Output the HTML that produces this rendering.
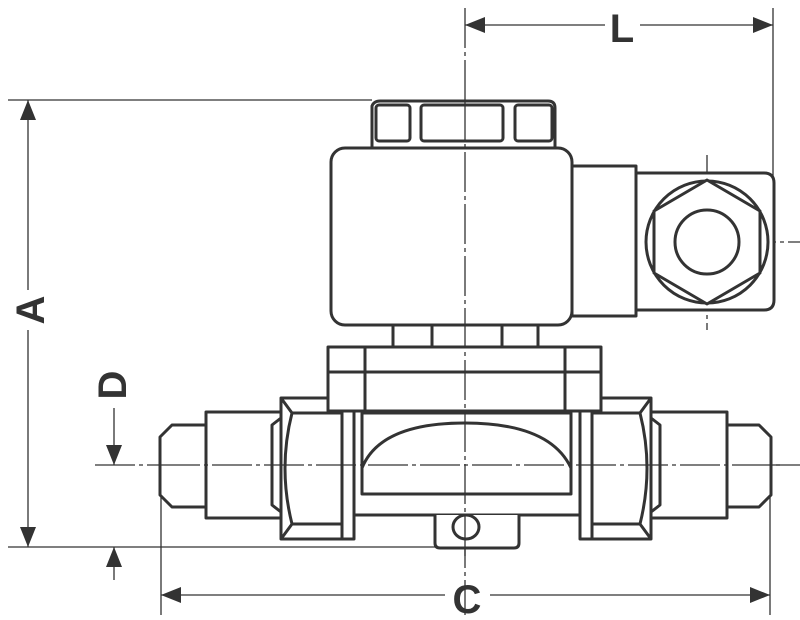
<!DOCTYPE html>
<html><head><style>body{margin:0;background:#fff}svg{display:block}</style></head><body>
<svg width="800" height="620" viewBox="0 0 800 620" xmlns="http://www.w3.org/2000/svg">
<defs>
<marker id="ar" viewBox="0 0 10 10" refX="10" refY="5" markerWidth="20" markerHeight="20" markerUnits="userSpaceOnUse" orient="auto-start-reverse"><path d="M0,1 L10,5 L0,9 z" fill="#333"/></marker>
</defs>
<g stroke="#333" stroke-width="1.3" fill="none">
<!-- extension lines -->
<line x1="465" y1="8" x2="465" y2="615" stroke-dasharray="40,4,4,4"/>
<line x1="773" y1="8" x2="773" y2="178"/>
<line x1="8" y1="100" x2="372" y2="100"/>
<line x1="8" y1="547" x2="436" y2="547"/>
<line x1="95" y1="465" x2="800" y2="465" stroke-dasharray="40,4,4,4"/>
<line x1="161" y1="465" x2="161" y2="615"/>
<line x1="770" y1="470" x2="770" y2="615"/>
<line x1="620" y1="242" x2="800" y2="242" stroke-dasharray="30,4,4,4"/>
<line x1="707" y1="155" x2="707" y2="330" stroke-dasharray="30,4,4,4"/>
<!-- dimension lines -->
<line x1="465" y1="25" x2="605" y2="25" marker-start="url(#ar)"/>
<line x1="640" y1="25" x2="773" y2="25" marker-end="url(#ar)"/>
<line x1="28" y1="100" x2="28" y2="290" marker-start="url(#ar)"/>
<line x1="28" y1="330" x2="28" y2="547" marker-end="url(#ar)"/>
<line x1="114" y1="408" x2="114" y2="465" marker-end="url(#ar)"/>
<line x1="114" y1="580" x2="114" y2="547" marker-end="url(#ar)"/>
<line x1="161" y1="595" x2="445" y2="595" marker-start="url(#ar)"/>
<line x1="490" y1="595" x2="770" y2="595" marker-end="url(#ar)"/>
</g>
<g font-family="Liberation Sans, sans-serif" font-weight="bold" font-size="40" fill="#333" text-anchor="middle">
<text x="622" y="42">L</text>
<text x="467" y="613">C</text>
<text transform="translate(44,310) rotate(-90)">A</text>
<text transform="translate(126,385) rotate(-90)">D</text>
</g>
<g stroke="#333" stroke-width="3" fill="#fff" stroke-linejoin="round">
<!-- top nut -->
<path d="M372,148 L372,106 Q374,101 380,101 L548,101 Q555,101 555,108 L555,148 Z"/>
<rect x="376" y="105" width="34" height="36" rx="3"/>
<rect x="421" y="105" width="82" height="36" rx="3"/>
<rect x="515" y="105" width="37" height="36" rx="3"/>
<!-- coil -->
<rect x="331" y="148" width="241" height="177" rx="14"/>
<rect x="572" y="166" width="64" height="150"/>
<path d="M636,173 L764,173 Q774,173 774,183 L774,300 Q774,310 764,310 L636,310 Z"/>
<circle cx="707" cy="242" r="61"/>
<polygon points="707,180 760,211 760,273 707,304 654,273 654,211"/>
<circle cx="707" cy="242" r="32"/>
<!-- lower nut -->
<rect x="393" y="325" width="145" height="22"/>
<line x1="432" y1="325" x2="432" y2="347"/>
<line x1="502" y1="325" x2="502" y2="347"/>
<!-- fittings -->
<polygon points="160,437 172,425 206,425 206,507 172,507 160,495"/>
<rect x="206" y="412" width="75" height="106"/>
<polygon points="771,437 759,425 727,425 727,507 759,507 771,495"/>
<rect x="651" y="412" width="76" height="106"/>
<!-- body -->
<rect x="342" y="411" width="250" height="104"/>
<path d="M435,515 L435,543 Q435,548 440,548 L514,548 Q519,548 519,543 L519,515"/>
<ellipse cx="466" cy="527" rx="13" ry="12"/>
<rect x="362" y="413" width="209" height="81"/>
<path d="M362,468 Q380,423 465,423 Q550,423 571,468"/>
<rect x="342" y="411" width="12" height="128"/>
<rect x="580" y="411" width="12" height="128"/>
<!-- hex nuts -->
<rect x="281" y="398" width="61" height="141"/>
<path d="M281,398 L292,413 L342,413 M281,539 L292,524 L342,524 M292,413 Q278,468 292,524" fill="none"/>
<rect x="592" y="398" width="59" height="141"/>
<path d="M651,398 L640,413 L592,413 M651,539 L640,524 L592,524 M640,413 Q654,468 640,524" fill="none"/>
<path d="M281,418 L272,425 L272,505 L281,512" fill="none"/>
<path d="M651,418 L660,425 L660,505 L651,512" fill="none"/>
<!-- bonnet plate -->
<rect x="328" y="347" width="273" height="64"/>
<line x1="365" y1="347" x2="365" y2="411"/>
<line x1="565" y1="347" x2="565" y2="411"/>
<line x1="328" y1="372" x2="601" y2="372"/>
</g>
<line x1="465" y1="100" x2="465" y2="560" stroke="#333" stroke-width="1.3" stroke-dasharray="40,4,4,4"/>
<line x1="160" y1="465" x2="780" y2="465" stroke="#333" stroke-width="1.3" stroke-dasharray="40,4,4,4"/>
</svg>
</body></html>
